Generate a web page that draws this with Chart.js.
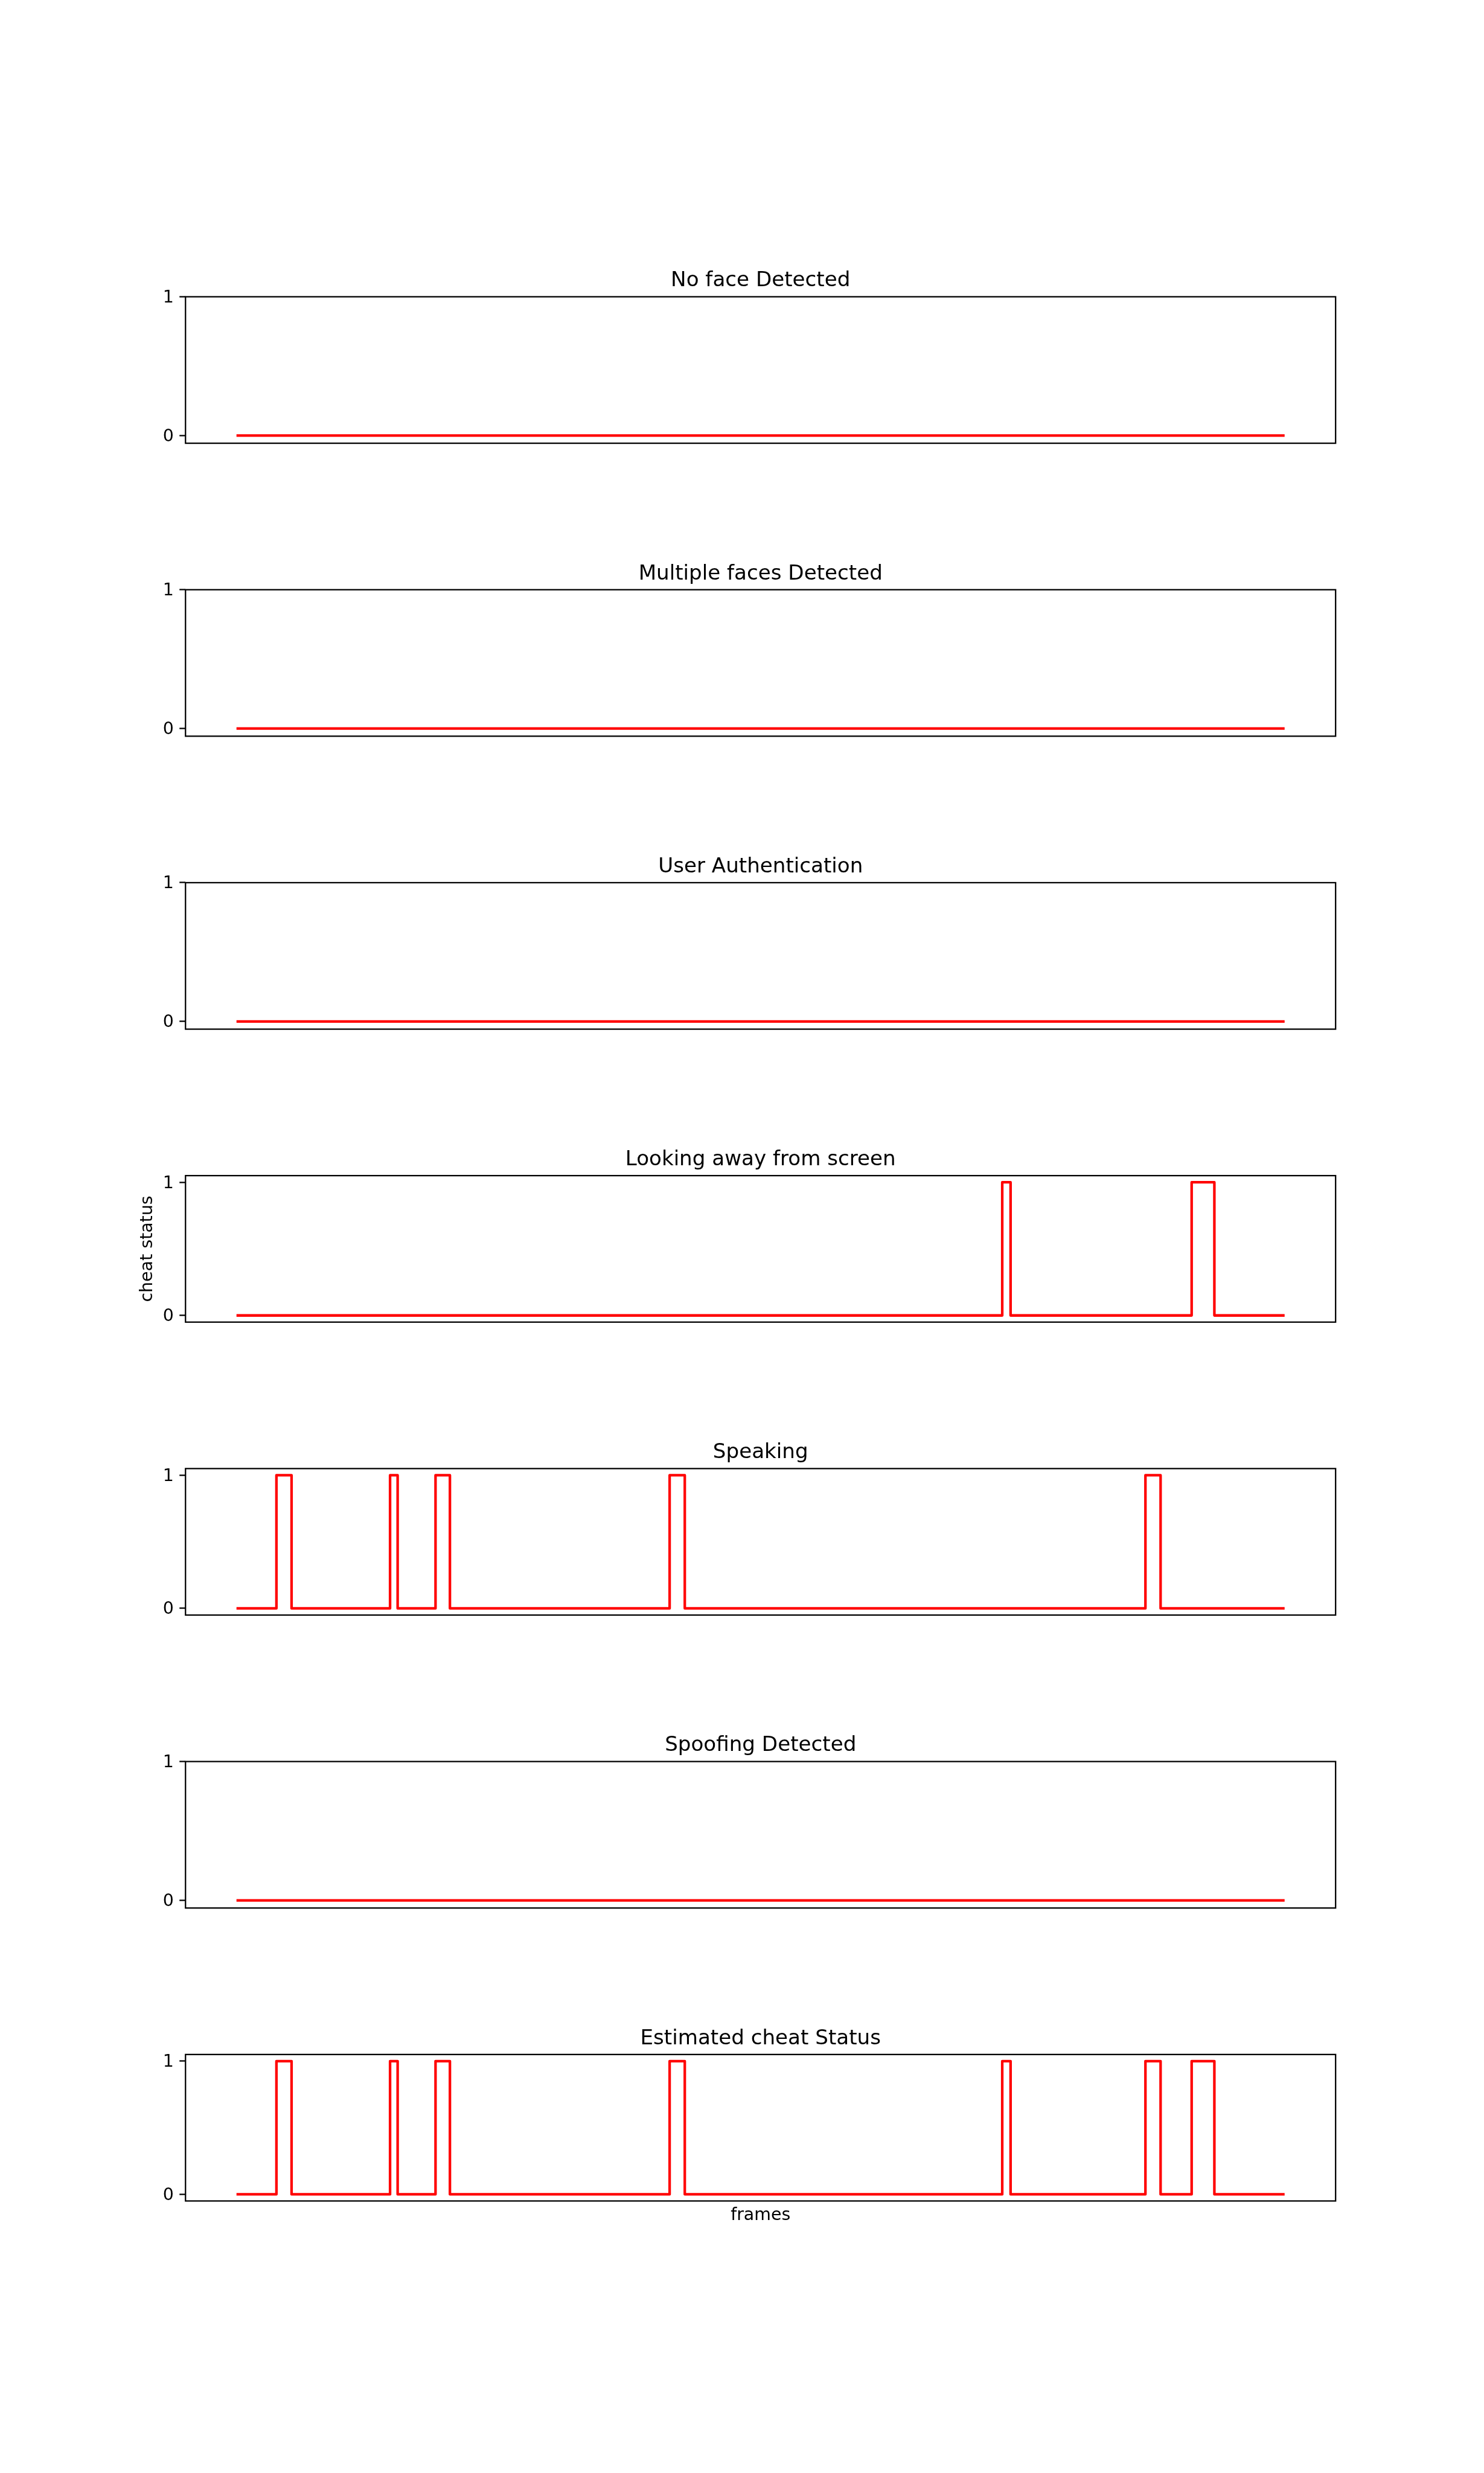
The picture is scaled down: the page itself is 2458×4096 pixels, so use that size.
<!DOCTYPE html>
<html>
<head>
<meta charset="utf-8">
<script src="https://cdn.jsdelivr.net/npm/chart.js@4.4.1/dist/chart.umd.min.js"></script>
<style>
html, body { margin: 0; padding: 0; background: #ffffff; }
body { width: 2458px; height: 4096px; position: relative; overflow: hidden; }
canvas { position: absolute; left: 0; }
</style>
</head>
<body>
<script>
// ---------- data ----------
const titles = [
  "No face Detected",
  "Multiple faces Detected",
  "User Authentication",
  "Looking away from screen",
  "Speaking",
  "Spoofing Detected",
  "Estimated cheat Status"
];
const yTickValues = [0, 1];
const yTickLabels = ["0", "1"];
const yAxisTitle = "cheat status";
const xAxisTitle = "frames";

const noFaceFrames = [0, 1380];
const noFaceStatus = [0, 0];

const multiFaceFrames = [0, 1380];
const multiFaceStatus = [0, 0];

const userAuthFrames = [0, 1380];
const userAuthStatus = [0, 0];

const lookingAwayFrames = [0, 1009, 1009, 1020, 1020, 1259, 1259, 1289, 1289, 1380];
const lookingAwayStatus = [0, 0, 1, 1, 0, 0, 1, 1, 0, 0];

const speakingFrames = [0, 51, 51, 71, 71, 201, 201, 211, 211, 261, 261, 280, 280,
                        570, 570, 590, 590, 1198, 1198, 1218, 1218, 1380];
const speakingStatus = [0, 0, 1, 1, 0, 0, 1, 1, 0, 0, 1, 1, 0,
                        0, 1, 1, 0, 0, 1, 1, 0, 0];

const spoofingFrames = [0, 1380];
const spoofingStatus = [0, 0];

const estimatedFrames = [0, 51, 51, 71, 71, 201, 201, 211, 211, 261, 261, 280, 280,
                         570, 570, 590, 590, 1009, 1009, 1020, 1020, 1198, 1198, 1218, 1218,
                         1259, 1259, 1289, 1289, 1380];
const estimatedStatus = [0, 0, 1, 1, 0, 0, 1, 1, 0, 0, 1, 1, 0,
                         0, 1, 1, 0, 0, 1, 1, 0, 0, 1, 1, 0,
                         0, 1, 1, 0, 0];

const seriesFrames = [noFaceFrames, multiFaceFrames, userAuthFrames, lookingAwayFrames,
                      speakingFrames, spoofingFrames, estimatedFrames];
const seriesStatus = [noFaceStatus, multiFaceStatus, userAuthStatus, lookingAwayStatus,
                      speakingStatus, spoofingStatus, estimatedStatus];

// ---------- layout (figure scaled 0.6827 from 3600x6000) ----------
const SY = 4096 / 6000, SX = 2458 / 3600;
const AX_LEFT = 450 * SX, AX_RIGHT = 3240 * SX;
const AX_TOP0 = 720 * SY;
const AX_H = (4620 / 13) * SY;
const AX_STEP = 2 * AX_H;
const TITLE_BLOCK = 80;
const Y_AXIS_W = 120;
const TICK_FONT = 28.44, TITLE_FONT = 34.13;
const LINE_W = 4.27, SPINE_W = 2.28;

Chart.defaults.font.family = "'DejaVu Sans', sans-serif";
Chart.defaults.color = '#000000';

const frameBox = {
  id: 'frameBox',
  afterDatasetsDraw(chart) {
    const { ctx, chartArea: a } = chart;
    ctx.save();
    ctx.strokeStyle = '#000000';
    ctx.lineWidth = SPINE_W;
    ctx.strokeRect(a.left, a.top, a.right - a.left, a.bottom - a.top);
    ctx.restore();
  }
};

titles.forEach((title, i) => {
  const frames = seriesFrames[i];
  const status = seriesStatus[i];
  const isLast = i === titles.length - 1;
  const hasYTitle = i === 3;

  const fMin = Math.min(...frames), fMax = Math.max(...frames);
  const fPad = (fMax - fMin) * 0.05;
  const sMax = Math.max(...status);
  const yMin = sMax > 0 ? -0.05 : -0.055;
  const yMax = sMax > 0 ? 1.05 : 1.0;

  const axTop = AX_TOP0 + i * AX_STEP;
  const canvasTop = Math.floor(axTop) - TITLE_BLOCK;
  const xAxisH = isLast ? 45.6 : 0;
  const bottomPad = isLast ? 12 : 32;
  const cHeight = Math.ceil(TITLE_BLOCK + (axTop - Math.floor(axTop)) + AX_H + xAxisH + bottomPad);
  const padBottom = cHeight - (TITLE_BLOCK + (axTop - Math.floor(axTop)) + AX_H + xAxisH);

  const cv = document.createElement('canvas');
  cv.width = 2458;
  cv.height = cHeight;
  cv.style.top = canvasTop + 'px';
  cv.style.width = '2458px';
  cv.style.height = cHeight + 'px';
  document.body.appendChild(cv);

  const titleLH = TITLE_FONT * 1.2;
  const titlePadB = 26.1 - titleLH / 2;
  const titlePadT = TITLE_BLOCK - titleLH - titlePadB;

  new Chart(cv, {
    type: 'line',
    data: {
      datasets: [{
        data: frames.map((f, k) => ({ x: f, y: status[k] })),
        borderColor: '#ff0000',
        backgroundColor: '#ff0000',
        borderWidth: LINE_W,
        borderJoinStyle: 'round',
        borderCapStyle: 'square',
        pointRadius: 0,
        pointHoverRadius: 0,
        tension: 0,
        fill: false
      }]
    },
    options: {
      responsive: false,
      animation: false,
      devicePixelRatio: 1,
      events: [],
      layout: {
        padding: {
          left: AX_LEFT - Y_AXIS_W,
          right: 2458 - AX_RIGHT,
          top: axTop - Math.floor(axTop),
          bottom: padBottom
        }
      },
      plugins: {
        legend: { display: false },
        tooltip: { enabled: false },
        title: {
          display: true,
          text: title,
          fullSize: false,
          color: '#000000',
          font: { size: TITLE_FONT, weight: 'normal', lineHeight: 1.2 },
          padding: { top: titlePadT, bottom: titlePadB }
        }
      },
      scales: {
        x: {
          type: 'linear',
          min: fMin - fPad,
          max: fMax + fPad,
          display: isLast,
          grid: { display: false },
          border: { display: false },
          ticks: { display: false },
          title: {
            display: isLast,
            text: xAxisTitle,
            color: '#000000',
            font: { size: TICK_FONT, lineHeight: 1.2 },
            padding: { top: 0, bottom: 4 }
          },
          afterFit(scale) { scale.height = xAxisH; }
        },
        y: {
          type: 'linear',
          min: yMin,
          max: yMax,
          afterBuildTicks(scale) {
            scale.ticks = yTickValues.map(v => ({ value: v }));
          },
          afterFit(scale) { scale.width = Y_AXIS_W; },
          grid: {
            display: true,
            drawOnChartArea: false,
            drawTicks: true,
            tickLength: 10,
            tickWidth: SPINE_W,
            tickColor: '#000000',
            color: '#000000'
          },
          border: { display: false },
          ticks: {
            autoSkip: false,
            padding: 9.5,
            labelOffset: 2,
            color: '#000000',
            font: { size: TICK_FONT, lineHeight: 1.2 },
            callback: (v, idx) => yTickLabels[idx]
          },
          title: {
            display: hasYTitle,
            text: yAxisTitle,
            color: '#000000',
            font: { size: TICK_FONT, lineHeight: 1.2 },
            padding: { top: 39.9, bottom: 0 }
          }
        }
      }
    },
    plugins: [frameBox]
  });
});
</script>
</body>
</html>
